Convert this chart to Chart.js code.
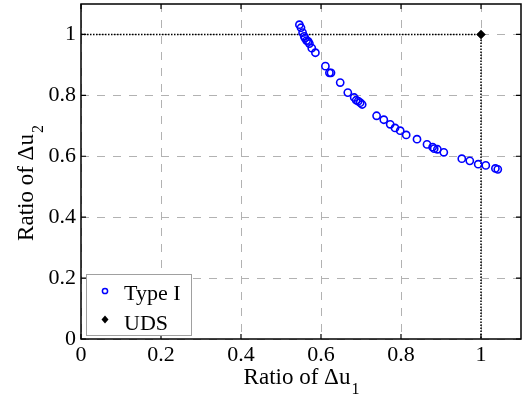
<!DOCTYPE html>
<html><head><meta charset="utf-8">
<script src="https://cdn.jsdelivr.net/npm/chart.js@4/dist/chart.umd.min.js"></script>
<style>html,body{margin:0;padding:0;background:#fff;overflow:hidden}</style>
</head><body>
<canvas id="c" width="523" height="399"></canvas>
<script>
// ---- data ----
const typeIx = [0.546,0.550,0.554,0.558,0.560,0.564,0.568,0.571,0.577,0.586,0.611,0.621,0.625,0.648,0.667,0.683,0.688,0.693,0.698,0.703,0.739,0.757,0.773,0.785,0.798,0.813,0.840,0.865,0.879,0.883,0.891,0.907,0.952,0.972,0.993,1.012,1.036,1.042];
const typeIy = [1.032,1.022,1.006,0.994,0.988,0.980,0.977,0.970,0.955,0.940,0.896,0.874,0.874,0.842,0.809,0.793,0.784,0.781,0.776,0.770,0.733,0.720,0.705,0.693,0.684,0.670,0.656,0.639,0.630,0.625,0.623,0.613,0.592,0.585,0.574,0.570,0.560,0.557];
const udsX = [1];
const udsY = [1];
const seriesNames = ['Type I', 'UDS'];
const xTicks = [0, 0.2, 0.4, 0.6, 0.8, 1];
const yTicks = [0, 0.2, 0.4, 0.6, 0.8, 1];
const xTickLabels = ['0', '0.2', '0.4', '0.6', '0.8', '1'];
const yTickLabels = ['0', '0.2', '0.4', '0.6', '0.8', '1'];
const xRange = [0, 1.1];
const yRange = [0, 1.1];
const xTitle = ['Ratio of \u0394u', '1'];
const yTitle = ['Ratio of \u0394u', '2'];

// ---- styling ----
const FONT = '"Liberation Serif", "Times New Roman", serif';
const typeIPts = typeIx.map((x, i) => ({x, y: typeIy[i]}));
const udsPts = udsX.map((x, i) => ({x, y: udsY[i]}));
const guidePts = [{x: xRange[0], y: udsY[0]}, {x: udsX[0], y: udsY[0]}, {x: udsX[0], y: yRange[0]}];

const framePlugin = {
  id: 'frame',
  afterDraw(chart) {
    const ctx = chart.ctx, a = chart.chartArea;
    const xs = chart.scales.x, ys = chart.scales.y;
    ctx.save();
    // frame
    ctx.strokeStyle = '#000';
    ctx.lineWidth = 1.5;
    ctx.strokeRect(a.left, a.top, a.right - a.left, a.bottom - a.top);
    // inner ticks
    ctx.lineWidth = 1.2;
    const tl = 5;
    ctx.beginPath();
    xTicks.forEach(v => {
      const px = xs.getPixelForValue(v);
      ctx.moveTo(px, a.bottom); ctx.lineTo(px, a.bottom - tl);
      ctx.moveTo(px, a.top); ctx.lineTo(px, a.top + tl);
    });
    yTicks.forEach(v => {
      const py = ys.getPixelForValue(v);
      ctx.moveTo(a.left, py); ctx.lineTo(a.left + tl, py);
      ctx.moveTo(a.right, py); ctx.lineTo(a.right - tl, py);
    });
    ctx.stroke();

    // axis titles
    ctx.fillStyle = '#000';
    ctx.textBaseline = 'alphabetic';
    const mainF = '23px ' + FONT, subF = '16px ' + FONT;
    ctx.font = mainF; const w1 = ctx.measureText(xTitle[0]).width;
    ctx.font = subF; const w2 = ctx.measureText(xTitle[1]).width;
    const cx = (a.left + a.right) / 2;
    let sx = cx - (w1 + w2) / 2;
    ctx.font = mainF; ctx.textAlign = 'left';
    ctx.fillText(xTitle[0], sx, 384);
    ctx.font = subF; ctx.fillText(xTitle[1], sx + w1 + 1, 394);

    ctx.save();
    ctx.translate(33, (a.top + a.bottom) / 2 + 12);
    ctx.rotate(-Math.PI / 2);
    ctx.font = mainF; const v1 = ctx.measureText(yTitle[0]).width;
    ctx.font = subF; const v2 = ctx.measureText(yTitle[1]).width;
    let sy = -(v1 + v2) / 2;
    ctx.font = mainF; ctx.fillText(yTitle[0], sy, 0);
    ctx.font = subF; ctx.fillText(yTitle[1], sy + v1 + 1, 10);
    ctx.restore();

    // legend
    const lx = 86.5, ly = 274.5, lw = 105, lh = 61;
    ctx.fillStyle = '#fff';
    ctx.fillRect(lx, ly, lw, lh);
    ctx.strokeStyle = '#a0a0a0';
    ctx.lineWidth = 1;
    ctx.strokeRect(lx, ly, lw, lh);
    // Type I marker
    ctx.strokeStyle = '#0000ff';
    ctx.lineWidth = 1.5;
    ctx.beginPath(); ctx.arc(105, 291, 2.6, 0, Math.PI * 2); ctx.stroke();
    // UDS marker
    ctx.fillStyle = '#000';
    ctx.beginPath();
    ctx.moveTo(105, 315.5); ctx.lineTo(108.5, 319.5); ctx.lineTo(105, 323.5); ctx.lineTo(101.5, 319.5);
    ctx.closePath(); ctx.fill();
    ctx.font = '22px ' + FONT;
    ctx.textAlign = 'left';
    ctx.fillText(seriesNames[0], 124, 300);
    ctx.fillText(seriesNames[1], 124, 329.5);
    ctx.restore();
  }
};

new Chart(document.getElementById('c'), {
  type: 'scatter',
  data: {
    datasets: [
      {
        label: 'guide', data: guidePts, showLine: true, order: 3,
        borderColor: '#000', borderWidth: 1.5, borderDash: [1.5, 1.5],
        pointRadius: 0, fill: false, tension: 0
      },
      {
        label: seriesNames[0], data: typeIPts, order: 2,
        pointStyle: 'circle', pointRadius: 3.6, borderWidth: 1.6,
        borderColor: '#0000ff', backgroundColor: 'rgba(0,0,0,0)'
      },
      {
        label: seriesNames[1], data: udsPts, order: 1,
        pointStyle: 'rectRot', pointRadius: 4.5, borderWidth: 0.5,
        borderColor: '#000', backgroundColor: '#000'
      }
    ]
  },
  options: {
    responsive: false,
    animation: false,
    events: [],
    layout: { autoPadding: false, padding: { left: 0, right: 2, top: 4, bottom: 0 } },
    plugins: { legend: { display: false }, tooltip: { enabled: false } },
    scales: {
      x: {
        type: 'linear', min: xRange[0], max: xRange[1],
        afterBuildTicks: s => { s.ticks = xTicks.map(v => ({value: v})); },
        afterFit: s => { s.height = 60; s.paddingLeft = 0; s.paddingRight = 0; },
        ticks: {
          autoSkip: false, maxRotation: 0, padding: 3, color: '#000',
          font: { family: FONT, size: 22 },
          callback: (v) => xTickLabels[xTicks.indexOf(v)] ?? ''
        },
        grid: { color: '#b2b2b2', lineWidth: 1, drawTicks: false },
        border: { display: false, dash: [8, 8] }
      },
      y: {
        type: 'linear', min: yRange[0], max: yRange[1],
        afterBuildTicks: s => { s.ticks = yTicks.map(v => ({value: v})); },
        afterFit: s => { s.width = 81; s.paddingTop = 0; s.paddingBottom = 0; },
        ticks: {
          autoSkip: false, padding: 5, color: '#000',
          font: { family: FONT, size: 22 },
          callback: (v) => yTickLabels[yTicks.indexOf(v)] ?? ''
        },
        grid: { color: '#b2b2b2', lineWidth: 1, drawTicks: false },
        border: { display: false, dash: [8, 8] }
      }
    }
  },
  plugins: [framePlugin]
});
</script>
</body></html>
